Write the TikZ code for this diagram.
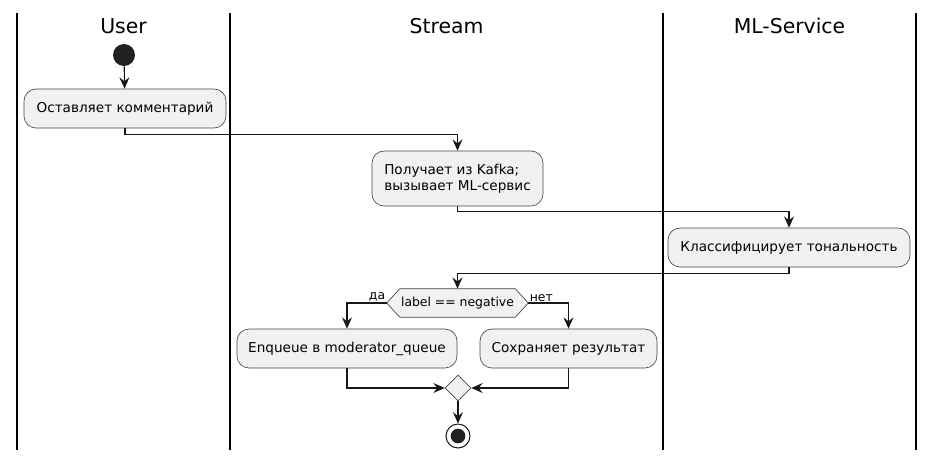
\documentclass[tikz,border=0pt]{standalone}
\usepackage{fontspec}
\setmainfont{DejaVu Sans}
\usetikzlibrary{arrows.meta,shapes.geometric,calc}
\definecolor{boxfill}{HTML}{F1F1F1}
\definecolor{boxline}{HTML}{181818}
\definecolor{startfill}{HTML}{222222}
\begin{document}
\begin{tikzpicture}[x=0.75pt,y=-0.75pt,
  lane/.style={line width=1.1pt, black},
  lanetitle/.style={font=\fontsize{15.3}{18}\selectfont, anchor=base},
  action/.style={draw=boxline!80, fill=boxfill, rounded corners=9pt, line width=0.5pt,
    font=\fontsize{10.2}{12}\selectfont, inner sep=0pt, minimum height=29.25pt},
  conn/.style={draw=boxline, line width=0.85pt,
    -{Stealth[length=8.5pt, width=7.5pt, inset=3pt]}},
  branchlbl/.style={font=\fontsize{9.3}{11}\selectfont, inner sep=1pt}
]
\useasboundingbox (0,0) rectangle (936,462);

% swimlanes
\draw[lane] (17,13) -- (17,450);
\draw[lane] (230,13) -- (230,450);
\draw[lane] (663,13) -- (663,450);
\draw[lane] (916,13) -- (916,450);
\node[lanetitle] (tUser) at (123.5,33) {User};
\node[lanetitle] (tStream) at (446.5,33) {Stream};
\node[lanetitle] (tML) at (789.5,33) {ML-Service};

% nodes
\node[circle, fill=startfill, inner sep=0pt, minimum size=16.5pt] (start) at (124,55) {};
\node[action, minimum width=151.5pt] (a1) at (125,108.5) {Оставляет комментарий};
\node[action, minimum width=128.25pt, minimum height=41.25pt, align=left] (a2) at (457.5,178.5)
  {Получает из Kafka;\\вызывает ML-сервис};
\node[action, minimum width=181.5pt] (a3) at (789,247.5) {Классифицирует тональность};

\node[inner sep=0pt, minimum width=86.25pt, minimum height=21pt,
  font=\fontsize{9.3}{11}\selectfont] (dec) at (457.5,303) {};
\coordinate (decL) at ($(dec.west)+(-13,0)$);
\coordinate (decR) at ($(dec.east)+(13,0)$);
\filldraw[draw=boxline!80, fill=boxfill, line width=0.5pt]
  (dec.north west) -- (dec.north east) -- (decR) -- (dec.south east)
  -- (dec.south west) -- (decL) -- cycle;
\node[font=\fontsize{9.3}{11}\selectfont] (dectext) at (dec.center) {label == negative};

\node[action, minimum width=165pt] (a4) at (347,348.5) {Enqueue в moderator\_queue};
\node[action, minimum width=132.75pt] (a5) at (568.5,348.5) {Сохраняет результат};

\node[diamond, draw=boxline!80, fill=boxfill, line width=0.5pt, inner sep=0pt,
  minimum width=19.5pt, minimum height=19.5pt] (merge) at (458,388) {};
\node[circle, draw=boxline, fill=white, line width=0.75pt, inner sep=0pt,
  minimum size=18pt] (stop) at (458,436) {};
\node[circle, fill=startfill, inner sep=0pt, minimum size=11pt] (stopin) at (stop.center) {};

% connectors
\draw[conn] (start) -- (a1);
\draw[conn] (a1.south) -- ++(0,6) -| (a2.north);
\draw[conn] (a2.south) -- ++(0,5) -| (a3.north);
\draw[conn] (a3.south) -- ++(0,6) -| (dec.north);
\draw[conn] (decL) -| (a4.north);
\draw[conn] (decR) -| (a5.north);
\draw[conn] (a4.south) |- (merge.west);
\draw[conn] (a5.south) |- (merge.east);
\draw[conn] (merge.south) -- (stop.north);

\node[branchlbl, anchor=south east] (lblyes) at (decL) {да};
\node[branchlbl, anchor=south west] (lblno) at (decR) {нет};
\end{tikzpicture}
\end{document}
